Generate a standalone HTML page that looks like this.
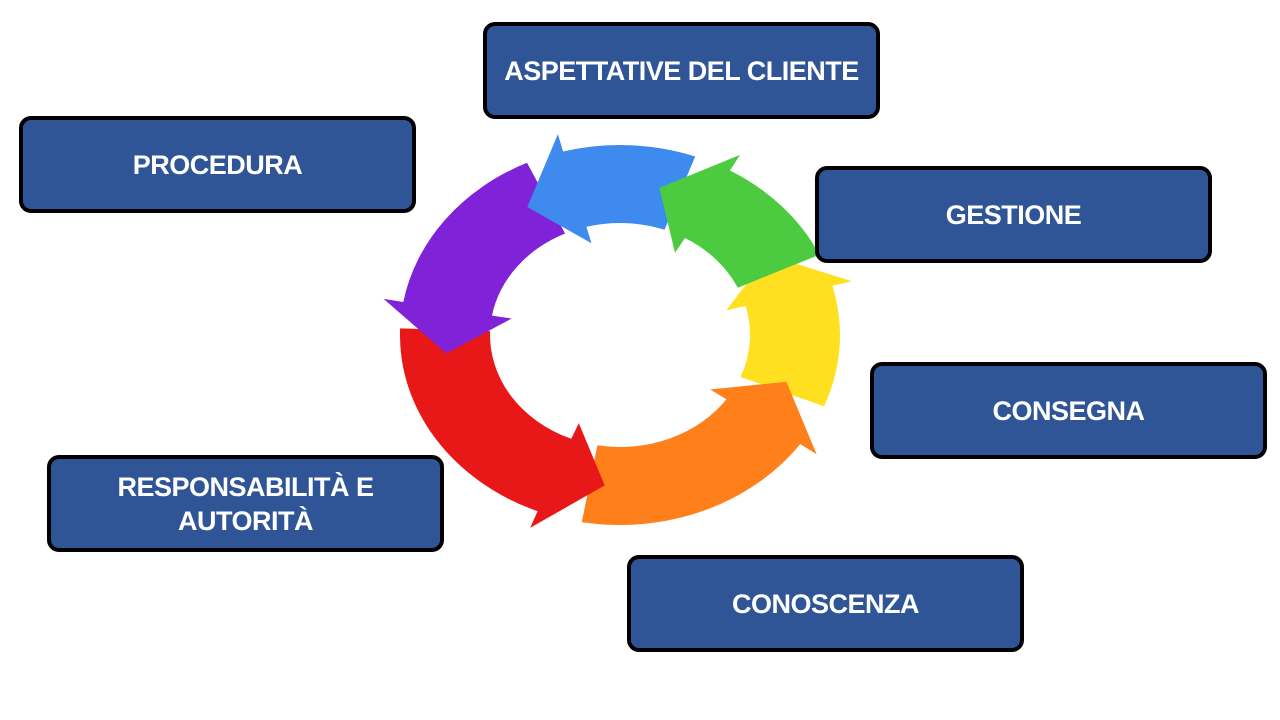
<!DOCTYPE html>
<html><head><meta charset="utf-8"><style>
body{margin:0;width:1280px;height:720px;background:#fff;position:relative;overflow:hidden;font-family:"Liberation Sans",sans-serif}
.b{position:absolute;width:389px;height:89px;border:4px solid #000;border-radius:12px;background:#2F5597;color:#fff;font-weight:bold;font-size:27px;display:flex;align-items:center;justify-content:center;text-align:center;line-height:34px;letter-spacing:-0.5px}
svg{position:absolute;left:0;top:0}
</style></head><body>
<svg width="1280" height="720">
<path fill="#FFE020" d="M824 406.2A220 190 0 0 0 832.5 285.8L851.8 281.2L768.4 255L726.2 310.4L745.6 306A130 112 0 0 1 740.5 377Z"/>
<path fill="#FF7F1A" d="M581.8 522.1A220 190 0 0 0 800.2 444L816.6 454.3L786.4 381.7L710.1 389.5L726.5 399.2A130 112 0 0 1 597.4 445.3Z"/>
<path fill="#E81818" d="M400.1 328.4A220 190 0 0 0 537.6 511.2L530.1 527.9L604.7 485.4L578.8 423.1L571.3 438.8A130 112 0 0 1 490.1 331.1Z"/>
<path fill="#7F22D8" d="M527 162.8A220 190 0 0 0 403.3 302L383.6 298.9L446.3 353.4L511.7 318.5L492 315.6A130 112 0 0 1 565.1 233.5Z"/>
<path fill="#3F8AEE" d="M695.2 156.5A220 190 0 0 0 563.1 151.5L557.9 134.1L527.3 207L591.5 243.2L586.4 226.8A130 112 0 0 1 664.5 229.8Z"/>
<path fill="#4CCB40" d="M819.4 254.7A220 190 0 0 0 730 170.5L740 154.9L659.4 187.9L675 252.7L685 238A130 112 0 0 1 737.8 287.7Z"/>
</svg>
<div class="b" style="left:483px;top:22px">ASPETTATIVE DEL CLIENTE</div>
<div class="b" style="left:19px;top:116px">PROCEDURA</div>
<div class="b" style="left:815px;top:166px">GESTIONE</div>
<div class="b" style="left:870px;top:362px">CONSEGNA</div>
<div class="b" style="left:47px;top:455px">RESPONSABILITÀ E<br>AUTORITÀ</div>
<div class="b" style="left:627px;top:555px">CONOSCENZA</div>
</body></html>
